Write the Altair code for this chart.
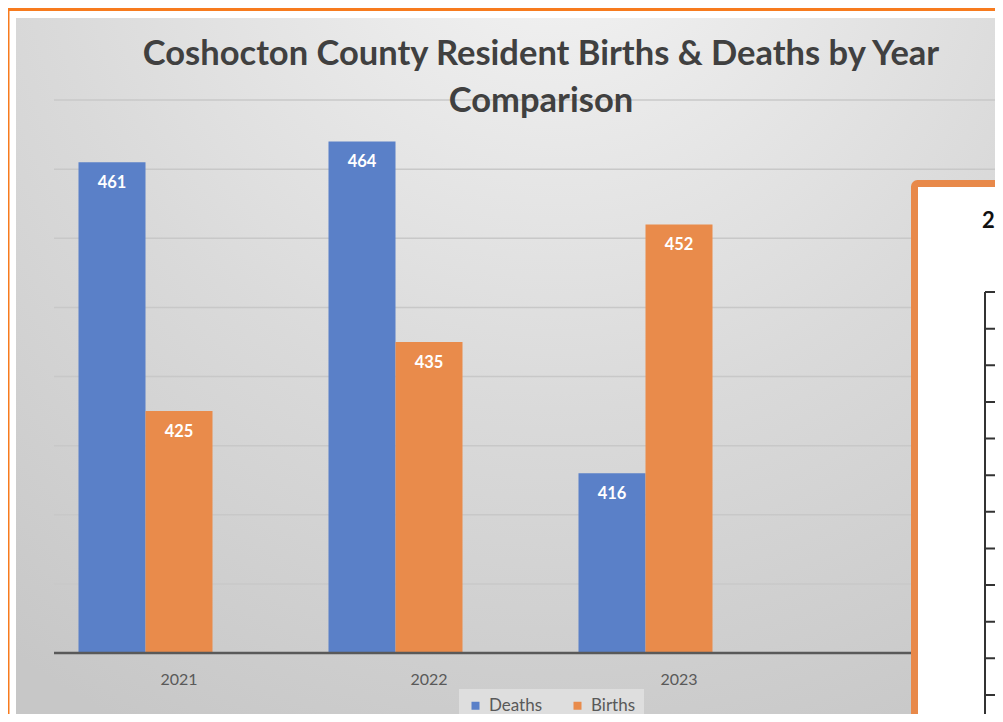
import altair as alt
import pandas as pd

# ---------------- data ----------------
years = ["2021", "2022", "2023"]
deaths = [461, 464, 416]
births = [425, 435, 452]
series = ["Deaths", "Births"]
slots = ["Deaths", "Births", "(blank)"]      # third, empty series slot in each year group
grid_values = [400, 410, 420, 430, 440, 450, 460, 470]
axis_min = [390]
y_domain = [390, 470]
title_lines = ["Coshocton County Resident Births & Deaths by Year", "Comparison"]
table_title = "2"
table_rows = list(range(12))

rows = []
for i, yr in enumerate(years):
    rows.append({"year": yr, "series": "Deaths", "value": deaths[i]})
    rows.append({"year": yr, "series": "Births", "value": births[i]})
df = pd.DataFrame(rows)
grid_df = pd.DataFrame({"v": grid_values})
base_df = pd.DataFrame({"v": axis_min})
one = pd.DataFrame({"k": [0]})
rows_df = pd.DataFrame({"row": table_rows})

# ---------------- style ----------------
BLUE = "#5A80C8"
ORANGE = "#E98B4B"
FONT = "Lato"
W, H = 941, 553

y_scale = alt.Scale(domain=y_domain, nice=False, zero=False)
x_enc = alt.X(
    "year:N",
    scale=alt.Scale(domain=years, range=[0, 750], paddingInner=0.196, paddingOuter=0.098),
    axis=alt.Axis(title=None, domain=False, ticks=False, tickSize=0, grid=False, labelAngle=0,
                  labelFont=FONT, labelFontSize=16, labelColor="#595959", labelPadding=18,
                  zindex=1),
)
xoff = alt.XOffset("series:N", scale=alt.Scale(domain=slots, paddingInner=0, paddingOuter=0))

bg = alt.Chart(one).mark_rect(
    fill={
        "gradient": "radial",
        "x1": 0.55, "y1": 0.02, "r1": 0,
        "x2": 0.55, "y2": 0.02, "r2": 0.95,
        "stops": [
            {"offset": 0, "color": "#f5f5f5"},
            {"offset": 0.55, "color": "#dadada"},
            {"offset": 1, "color": "#c7c7c7"},
        ],
    }
).encode(x=alt.value(-38), x2=alt.value(943), y=alt.value(-82), y2=alt.value(617))

frame_top = alt.Chart(one).mark_rect(fill="#F77B1E").encode(
    x=alt.value(-46), x2=alt.value(949), y=alt.value(-92), y2=alt.value(-89))
frame_left = alt.Chart(one).mark_rect(fill="#F77B1E").encode(
    x=alt.value(-46), x2=alt.value(-44.5), y=alt.value(-92), y2=alt.value(618))

title = alt.Chart(one).mark_text(
    text=title_lines, font=FONT, fontWeight="bold", fontSize=34.5, color="#404040",
    align="center", baseline="alphabetic", lineHeight=47,
).encode(x=alt.value(487), y=alt.value(-35))

gridlines = alt.Chart(grid_df).mark_rule(color="#c8c8c8", strokeWidth=1.5).encode(
    y=alt.Y("v:Q", scale=y_scale, axis=None))

bars = alt.Chart(df).mark_bar().encode(
    x=x_enc,
    xOffset=xoff,
    y=alt.Y("value:Q", scale=y_scale, axis=None),
    y2=alt.datum(390),
    color=alt.Color(
        "series:N",
        scale=alt.Scale(domain=series, range=[BLUE, ORANGE]),
        legend=alt.Legend(
            orient="none", legendX=405, legendY=589, direction="horizontal", title=None,
            symbolType="square", symbolSize=64, symbolStrokeWidth=0,
            labelFont=FONT, labelFontSize=17, labelColor="#595959",
            fillColor="#dedede", padding=8, columnPadding=26, labelOffset=5,
        ),
    ),
)

labels = alt.Chart(df).mark_text(
    color="white", font=FONT, fontWeight="bold", fontSize=16.5, baseline="middle", dy=21
).encode(
    x=x_enc, xOffset=xoff,
    y=alt.Y("value:Q", scale=y_scale, axis=None),
    text=alt.Text("value:Q"),
)

baseline = alt.Chart(base_df).mark_rule(color="#595959", strokeWidth=2.5).encode(
    y=alt.Y("v:Q", scale=y_scale, axis=None))

table_box = alt.Chart(one).mark_rect(
    fill="white", stroke="#E8894A", strokeWidth=7, cornerRadius=3
).encode(x=alt.value(860.5), x2=alt.value(980), y=alt.value(83.5), y2=alt.value(660))

table_text = alt.Chart(one).mark_text(
    text=table_title, font=FONT, fontWeight="bold", fontSize=22, color="#111111",
    align="left", baseline="middle",
).encode(x=alt.value(928), y=alt.value(121))

table_vline = alt.Chart(one).mark_rule(color="#333333", strokeWidth=2).encode(
    x=alt.value(931), y=alt.value(192), y2=alt.value(660))

table_hlines = alt.Chart(rows_df).mark_rule(color="#333333", strokeWidth=2).encode(
    x=alt.value(931), x2=alt.value(980),
    y=alt.Y("row:Q", scale=alt.Scale(domain=[0, 11], range=[192, 595]), axis=None))

chart = alt.layer(
    bg, frame_top, frame_left, gridlines, bars, labels, baseline, title,
    table_box, table_text, table_vline, table_hlines,
).resolve_scale(y="independent").properties(
    width=W, height=H,
    autosize=alt.AutoSizeParams(type="none"),
    padding={"left": 46, "top": 92, "right": 0, "bottom": 61},
    background="white",
).configure_view(stroke=None)

chart.save("out.html", embed_options={"renderer": "svg", "actions": False})
